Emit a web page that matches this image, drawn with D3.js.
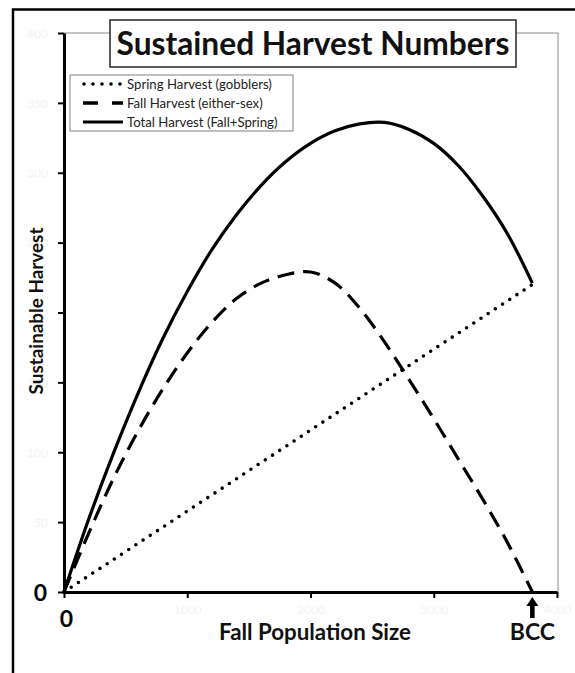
<!DOCTYPE html>
<html><head><meta charset="utf-8">
<script src="https://cdn.jsdelivr.net/npm/d3@7"></script>
<style>body{margin:0;background:#fff}</style>
</head><body>
<svg id="c" width="575" height="673"></svg>
<script>
// ---- data ----
const populationN   = [0,200,400,600,800,1000,1200,1400,1600,1800,2000,2200,2400,2600,2800,3000,3200,3400,3600,3800];
const fallHarvest   = [0,42,81,115,145,171,193,210,221,227,229,221,203,179,152,124,95,66,35,0];
const totalHarvest  = [0,52,99,142,181,215,245,270,291,308,321,330,335,336,331,321,305,283,256,221];
const springN       = [0,3800];
const springHarvest = [0,220];
const yTicks = [0,50,100,150,200,250,300,350,400];
const xTicks = [0,1000,2000,3000,4000];
const bcc = 3800;
const legendLabels = ["Spring Harvest (gobblers)","Fall Harvest (either-sex)","Total Harvest (Fall+Spring)"];
const titleText = "Sustained Harvest Numbers";
const xTitle = "Fall Population Size";
const yTitle = "Sustainable Harvest";

const FONT = "Lato, 'Open Sans', sans-serif";
const svg = d3.select("#c");
const x = d3.scaleLinear().domain([0,4000]).range([64,557]);
const y = d3.scaleLinear().domain([0,400]).range([592,33]);

function fit(sel, w){
  const len = sel.node().getComputedTextLength();
  const fs = parseFloat(sel.attr("font-size"));
  sel.attr("font-size", fs*w/len);
  return fs*w/len;
}

// outer frame
svg.append("path").attr("d","M13,673V9.5H576").attr("fill","none").attr("stroke","#000").attr("stroke-width",2.5);

// plot area border (top & right)
svg.append("path").attr("d",`M${x(0)},${y(400)}H${x(4000)+1}V${y(0)}`).attr("fill","none").attr("stroke","#8a8a8a").attr("stroke-width",1);

// curves
const line = d3.line().x(d=>x(d[0])).y(d=>y(d[1])).curve(d3.curveCatmullRom.alpha(0.5));
svg.append("path").datum(springN.map((n,i)=>[n,springHarvest[i]]))
  .attr("d", d3.line().x(d=>x(d[0])).y(d=>y(d[1])))
  .attr("fill","none").attr("stroke","#000").attr("stroke-width",3.6)
  .attr("stroke-linecap","round").attr("stroke-dasharray","0 8.6");
svg.append("path").datum(populationN.map((n,i)=>[n,fallHarvest[i]]))
  .attr("d", line).attr("fill","none").attr("stroke","#000").attr("stroke-width",3.2)
  .attr("stroke-dasharray","17 9");
svg.append("path").datum(populationN.map((n,i)=>[n,totalHarvest[i]]))
  .attr("d", line).attr("fill","none").attr("stroke","#000").attr("stroke-width",3.2);

// y axis
const ya = svg.append("g").attr("transform",`translate(${x(0)},0)`)
  .call(d3.axisLeft(y).tickValues(yTicks).tickSize(6).tickSizeOuter(0).tickPadding(10).tickFormat(d=>d));
ya.select(".domain").attr("stroke","#000").attr("stroke-width",3);
ya.selectAll(".tick line").attr("stroke","#000").attr("stroke-width",2);
ya.selectAll(".tick text").attr("font-family",FONT).attr("font-size",12).attr("fill","#f4f4f4").attr("dy","0.35em");
ya.selectAll(".tick text").filter(d=>d===0).attr("font-size",23).attr("font-weight","bold").attr("fill","#000").attr("x",-17);

// x axis
const xa = svg.append("g").attr("transform",`translate(0,${y(0)})`)
  .call(d3.axisBottom(x).tickValues(xTicks).tickSize(6).tickSizeOuter(0).tickPadding(4).tickFormat(d=>d));
xa.select(".domain").attr("stroke","#000").attr("stroke-width",3);
xa.selectAll(".tick line").attr("stroke","#000").attr("stroke-width",2);
xa.selectAll(".tick text").attr("font-family",FONT).attr("font-size",12).attr("fill","#f4f4f4").attr("y",13).attr("dy","0.71em");
xa.selectAll(".tick text").filter(d=>d===0).attr("font-size",23).attr("font-weight","bold").attr("fill","#000").attr("y",18).attr("dy","0.72em").attr("dx",2);

// axis titles
const xt = svg.append("text").attr("x",315).attr("y",640).attr("text-anchor","middle")
  .attr("font-family",FONT).attr("font-weight","bold").attr("font-size",18).attr("fill","#111").text(xTitle);
fit(xt,192);
const yt = svg.append("text").attr("transform","translate(43,311) rotate(-90)").attr("text-anchor","middle")
  .attr("font-family",FONT).attr("font-weight","bold").attr("font-size",18).attr("fill","#111").text(yTitle);
fit(yt,167);

// BCC marker
const bx = x(bcc);
svg.append("path").attr("d",`M${bx},597L${bx+6},606H${bx+2.3}V618H${bx-2.3}V606H${bx-6}Z`).attr("fill","#000");
svg.append("text").attr("x",bx).attr("y",640).attr("text-anchor","middle")
  .attr("font-family",FONT).attr("font-weight","bold").attr("font-size",23).attr("fill","#111").text("BCC");

// title box
svg.append("rect").attr("x",110).attr("y",20).attr("width",406).attr("height",47)
  .attr("fill","#fff").attr("stroke","#333").attr("stroke-width",1.6);
const tt = svg.append("text").attr("x",313).attr("y",55).attr("text-anchor","middle")
  .attr("font-family",FONT).attr("font-weight","bold").attr("font-size",29).attr("fill","#111").text(titleText);
fit(tt,393);

// legend
const lg = svg.append("g");
lg.append("rect").attr("x",70).attr("y",75).attr("width",223).attr("height",56)
  .attr("fill","#fff").attr("stroke","#808080").attr("stroke-width",1);
const rowY = [84,103,122];
const styles = [
  {w:3.6, dash:"0 9", cap:"round"},
  {w:3.4, dash:"15 14", cap:"butt"},
  {w:3, dash:null, cap:"butt"}
];
let legFs = null;
legendLabels.forEach((lab,i)=>{
  const s = styles[i];
  const ln = lg.append("line").attr("x1",i===0?84:83).attr("x2",i===0?121:123).attr("y1",rowY[i]).attr("y2",rowY[i])
    .attr("stroke","#000").attr("stroke-width",s.w).attr("stroke-linecap",s.cap);
  if(s.dash) ln.attr("stroke-dasharray",s.dash);
  const t = lg.append("text").attr("x",127).attr("y",rowY[i]).attr("dy","0.35em")
    .attr("font-family",FONT).attr("font-size",12).attr("fill","#222").text(lab);
  if(i===0) legFs = fit(t,145); else t.attr("font-size",legFs);
});
</script>
</body></html>
